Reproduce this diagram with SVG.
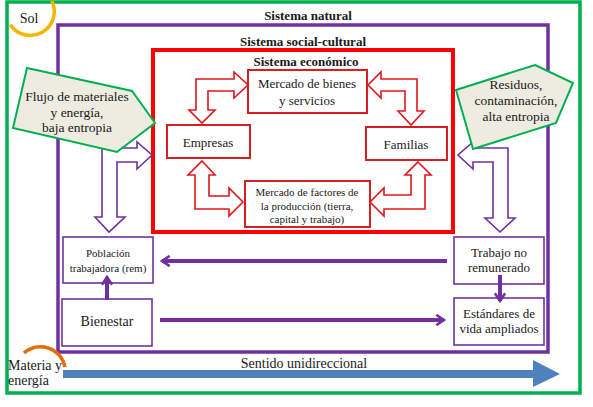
<svg xmlns="http://www.w3.org/2000/svg" width="593" height="407" viewBox="0 0 593 407">
<defs>
<style>
text{font-family:'Liberation Serif','Times New Roman',serif;fill:#1a1a1a;text-anchor:middle}
.b{font-weight:bold;font-size:13px}
.box{fill:#fff;stroke:#d42020;stroke-width:2}
.pbox{fill:#fff;stroke:#7030A0;stroke-width:1.6}
.rarr{fill:#fff;stroke:#e0161d;stroke-width:1.6;stroke-linejoin:miter}
.parr{fill:#fff;stroke:#7030A0;stroke-width:1.6}
.poly{fill:#eeece1;stroke:#00b050;stroke-width:2}
.pline{stroke:#7030A0;stroke-width:4;fill:none}
</style>
<marker id="ph" viewBox="0 0 10 10" refX="7" refY="5" markerWidth="3.2" markerHeight="3.2" orient="auto-start-reverse" markerUnits="strokeWidth">
<path d="M1,1 L7,5 L1,9" fill="none" stroke="#7030A0" stroke-width="2"/>
</marker>
</defs>
<rect width="593" height="407" fill="#fff"/>

<g id="sistema-natural">
<rect x="7" y="2" width="573" height="391" fill="none" stroke="#00b050" stroke-width="3.5"/>
<text class="b" x="308" y="20">Sistema natural</text>
</g>
<g id="sol">
<path d="M51.8,0.9 A24,24 0 0 1 10.3,24.8" fill="none" stroke="#f4b400" stroke-width="3.5"/>
<text x="29" y="23" style="font-size:14px">Sol</text>
</g>
<g id="sistema-social-cultural">
<rect x="58" y="25" width="490" height="327" fill="none" stroke="#7030A0" stroke-width="3.5"/>
<text class="b" x="303" y="46">Sistema social-cultural</text>
</g>
<g id="sistema-economico">
<rect x="153" y="50" width="300" height="182" fill="none" stroke="#ff0000" stroke-width="4"/>
<text class="b" x="306" y="66">Sistema económico</text>
</g>

<g id="block-connectors">
<polygon class="rarr" points="196,79 234,79 234,72 248,85 234,98 234,91 208,91 208,110 215,110 202,123 189,110 196,110"/>
<polygon class="rarr" points="417,79 381,79 381,72 368,85 381,98 381,91 405,91 405,111 398,111 411,125 424,111 417,111"/>
<polygon class="rarr" points="202,161 215,175 209,175 209,196 229,196 229,188 243,202 229,216 229,209 195,209 195,175 188,175"/>
<polygon class="rarr" points="418,162 431,175 425,175 425,209 384,209 384,216 370,202 384,188 384,195 411,195 411,175 405,175"/>
<polygon class="parr" points="102,148 137,148 137,142 152,155 137,169 137,162 117,162 117,217 125,217 109,232 95,217 102,217"/>
<polygon class="parr" points="508,148 473,148 473,142 458,155 473,169 473,162 493,162 493,218 485,218 500,232 515,218 508,218"/>
</g>

<g id="flujo">
<polygon class="poly" points="27,68 132,91 155,123 117,152 13,128"/>
<text x="77" y="101" style="font-size:13.5px">Flujo de materiales</text>
<text x="77" y="117" style="font-size:13.5px">y energía,</text>
<text x="77" y="132" style="font-size:13.5px">baja entropia</text>
</g>
<g id="residuos">
<polygon class="poly" points="535,65 573,83 556,123 473,149 456,90"/>
<text x="516" y="89" style="font-size:13.5px">Residuos,</text>
<text x="516" y="105" style="font-size:13.5px">contaminación,</text>
<text x="516" y="121" style="font-size:13.5px">alta entropia</text>
</g>

<g id="mercado-bienes">
<rect class="box" x="248" y="70" width="119" height="43"/>
<text x="307" y="88" style="font-size:13px">Mercado de bienes</text>
<text x="307" y="105" style="font-size:13px">y servicios</text>
</g>
<g id="empresas">
<rect class="box" x="167" y="125" width="83" height="33"/>
<text x="208" y="147" style="font-size:13px">Empresas</text>
</g>
<g id="familias">
<rect class="box" x="366" y="127" width="81" height="33"/>
<text x="406" y="149" style="font-size:13px">Familias</text>
</g>
<g id="mercado-factores">
<rect class="box" x="245" y="181" width="125" height="46"/>
<text x="307" y="196" style="font-size:11px">Mercado  de factores de</text>
<text x="307" y="210" style="font-size:11px">la producción (tierra,</text>
<text x="307" y="223" style="font-size:11px">capital y trabajo)</text>
</g>

<g id="poblacion">
<rect class="pbox" x="63" y="237" width="90" height="46"/>
<text x="108" y="257" style="font-size:11px">Población</text>
<text x="108" y="272" style="font-size:11px">trabajadora (rem)</text>
</g>
<g id="bienestar">
<rect class="pbox" x="62" y="299" width="90" height="47"/>
<text x="107" y="326" style="font-size:14px">Bienestar</text>
</g>
<g id="trabajo">
<rect class="pbox" x="454" y="237" width="90" height="47"/>
<text x="499" y="257" style="font-size:13px">Trabajo no</text>
<text x="499" y="272" style="font-size:13px">remunerado</text>
</g>
<g id="estandares">
<rect class="pbox" x="454" y="298" width="90" height="47"/>
<text x="499" y="318" style="font-size:13px">Estándares de</text>
<text x="499" y="333" style="font-size:13px">vida ampliados</text>
</g>

<g id="connectors">
<line class="pline" x1="447" y1="261" x2="162" y2="261" marker-end="url(#ph)"/>
<line class="pline" x1="160" y1="320" x2="444" y2="320" marker-end="url(#ph)"/>
<line class="pline" x1="107" y1="300" x2="107" y2="277" marker-end="url(#ph)"/>
<line class="pline" x1="500" y1="275" x2="500" y2="301" marker-end="url(#ph)"/>
<path d="M63,370 L533,370 L533,360 L560,374 L533,387 L533,378 L63,378 Z" fill="#4f81bd"/>
</g>

<g id="materia">
<path d="M24,353 A25,25 0 0 1 65,367" fill="none" stroke="#e46c0a" stroke-width="3.5"/>
<text x="8" y="370" style="font-size:14px;text-anchor:start">Materia y</text>
<text x="8" y="385" style="font-size:14px;text-anchor:start">energía</text>
</g>
<g id="sentido">
<text x="304" y="368" style="font-size:14px">Sentido unidireccional</text>
</g>
</svg>
